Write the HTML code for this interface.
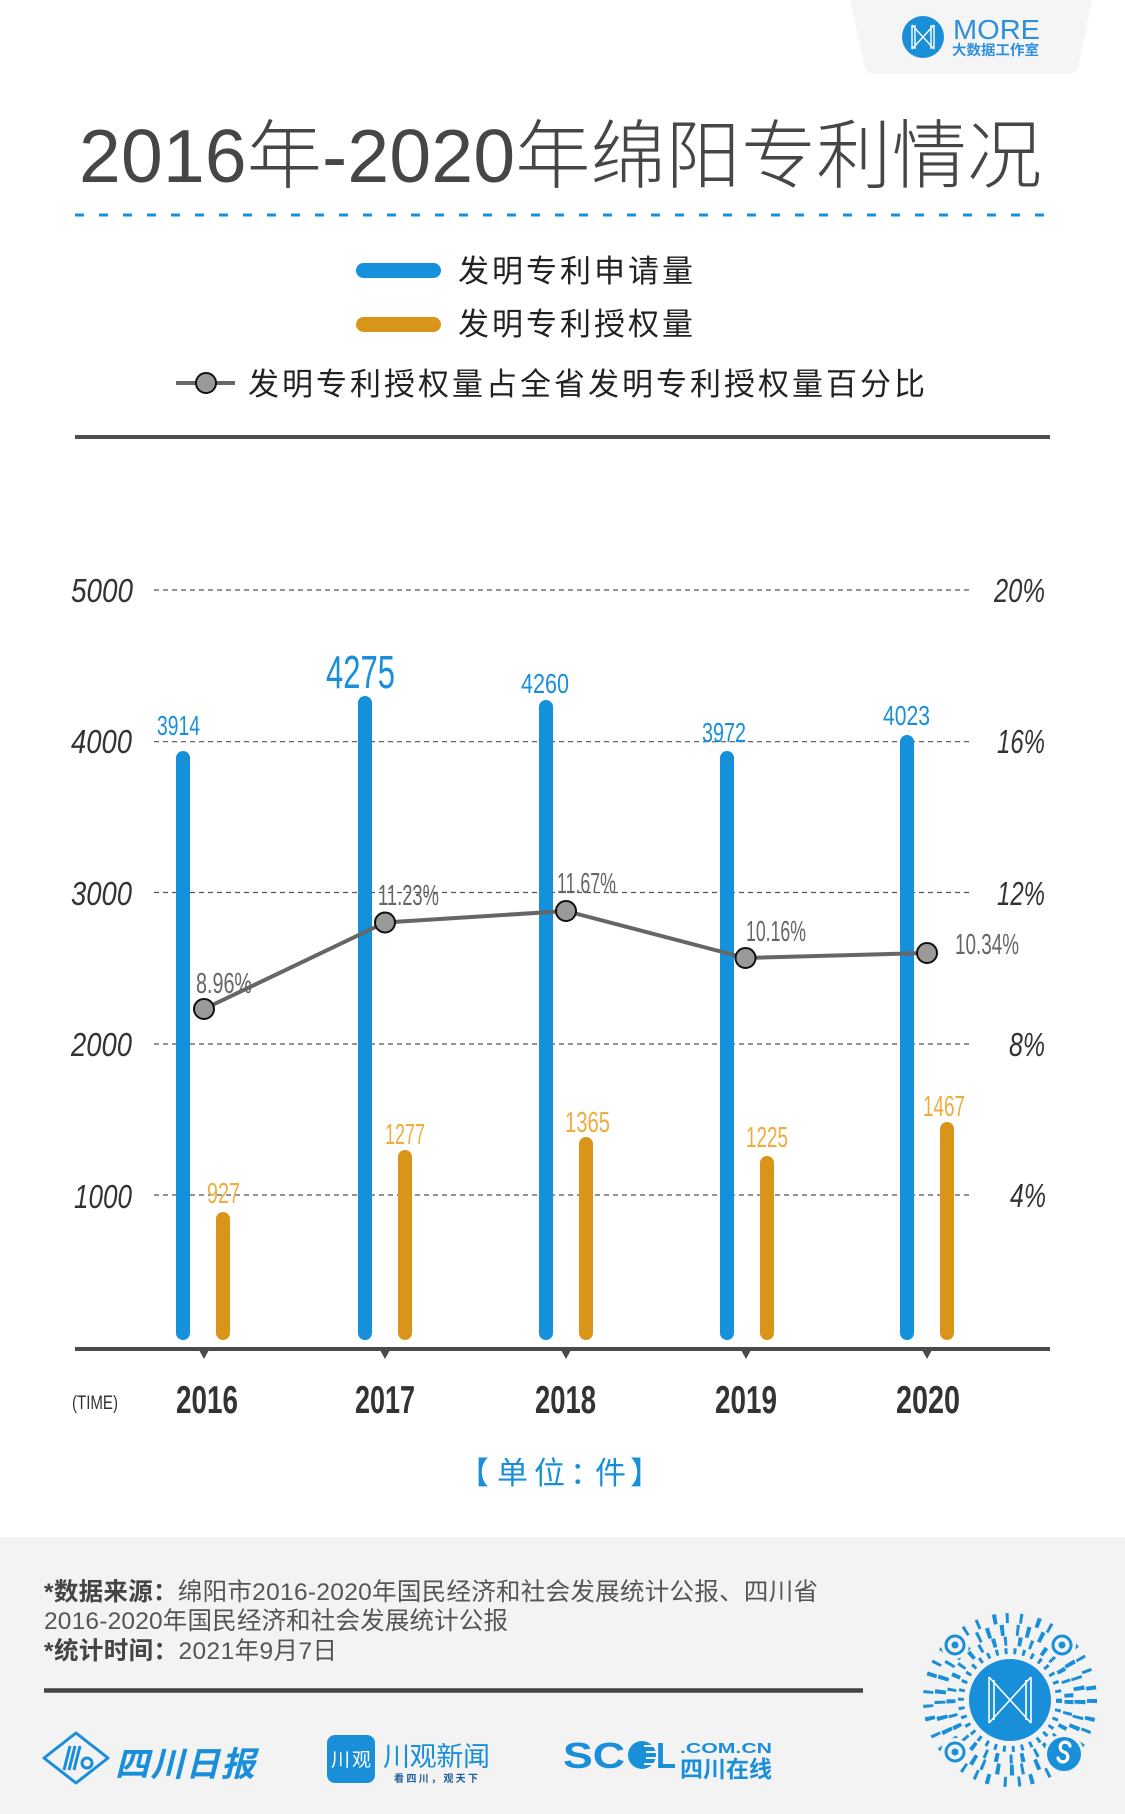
<!DOCTYPE html>
<html>
<head>
<meta charset="utf-8">
<style>
html,body{margin:0;padding:0;background:#fff;}
body{width:1125px;height:1814px;overflow:hidden;}
svg{display:block;}
text{font-family:"Liberation Sans","Noto Sans CJK SC",sans-serif;}
.num{font-family:"Liberation Sans",sans-serif;}
</style>
</head>
<body>
<svg width="1125" height="1814" viewBox="0 0 1125 1814" xmlns="http://www.w3.org/2000/svg">
  <rect x="0" y="0" width="1125" height="1814" fill="#ffffff"/>

  <!-- top logo box -->
  <path d="M850,0 L1092,0 L1079,64 Q1077,74 1067,74 L876,74 Q866,74 864,64 Z" fill="#f5f5f5"/>
  <circle cx="923" cy="37" r="21" fill="#1a8fd9"/>
  <g stroke="#fff" stroke-width="1.4" fill="none">
    <line x1="912" y1="25" x2="912" y2="49"/>
    <line x1="915" y1="25" x2="915" y2="49"/>
    <line x1="931" y1="25" x2="931" y2="49"/>
    <line x1="934" y1="25" x2="934" y2="49"/>
    <line x1="912" y1="25" x2="934" y2="49"/>
    <line x1="934" y1="25" x2="912" y2="49"/>
  </g>
  <text class="num" x="953" y="39" font-size="28" fill="#2f8fdc" textLength="87" lengthAdjust="spacingAndGlyphs">MORE</text>
  <text x="952" y="55" font-size="14" font-weight="700" fill="#2f8fdc" textLength="87" lengthAdjust="spacingAndGlyphs">大数据工作室</text>

  <!-- title -->
  <text x="79" y="182" font-size="75" fill="#464646" font-weight="300" textLength="963" lengthAdjust="spacing">2016年-2020年绵阳专利情况</text>
  <line x1="75" y1="215" x2="1050" y2="215" stroke="#1a8fd9" stroke-width="3" stroke-dasharray="9 15"/>

  <!-- legend -->
  <rect x="356" y="263" width="85" height="15" rx="7.5" fill="#1590db"/>
  <text x="458" y="282" font-size="31" fill="#222" textLength="235" lengthAdjust="spacing">发明专利申请量</text>
  <rect x="356" y="317" width="85" height="15" rx="7.5" fill="#d9951a"/>
  <text x="458" y="335" font-size="31" fill="#222" textLength="235" lengthAdjust="spacing">发明专利授权量</text>
  <line x1="176" y1="383" x2="235" y2="383" stroke="#666" stroke-width="4"/>
  <circle cx="206" cy="383" r="10" fill="#9a9a9a" stroke="#111" stroke-width="2"/>
  <text x="248" y="395" font-size="31" fill="#222" textLength="677" lengthAdjust="spacing">发明专利授权量占全省发明专利授权量百分比</text>

  <line x1="75" y1="437" x2="1050" y2="437" stroke="#4d4d4d" stroke-width="4"/>

  <!-- gridlines -->
  <g stroke="#555" stroke-width="1.2" stroke-dasharray="5 4">
    <line x1="154" y1="590" x2="972" y2="590"/>
    <line x1="154" y1="741.7" x2="972" y2="741.7"/>
    <line x1="154" y1="892.5" x2="972" y2="892.5"/>
    <line x1="154" y1="1044" x2="972" y2="1044"/>
    <line x1="154" y1="1195" x2="972" y2="1195"/>
  </g>

  <!-- left axis labels -->
  <g class="num" font-size="33" font-style="italic" fill="#333">
    <text x="71" y="602" textLength="62" lengthAdjust="spacingAndGlyphs">5000</text>
    <text x="71" y="753" textLength="61" lengthAdjust="spacingAndGlyphs">4000</text>
    <text x="71" y="905" textLength="61" lengthAdjust="spacingAndGlyphs">3000</text>
    <text x="71" y="1056" textLength="61" lengthAdjust="spacingAndGlyphs">2000</text>
    <text x="74" y="1208" textLength="58" lengthAdjust="spacingAndGlyphs">1000</text>
  </g>
  <!-- right axis labels -->
  <g class="num" font-size="33" font-style="italic" fill="#333">
    <text x="994" y="602" textLength="51" lengthAdjust="spacingAndGlyphs">20%</text>
    <text x="997" y="753" textLength="48" lengthAdjust="spacingAndGlyphs">16%</text>
    <text x="997" y="905" textLength="48" lengthAdjust="spacingAndGlyphs">12%</text>
    <text x="1009" y="1056" textLength="36" lengthAdjust="spacingAndGlyphs">8%</text>
    <text x="1010" y="1207" textLength="36" lengthAdjust="spacingAndGlyphs">4%</text>
  </g>

  <!-- blue bars -->
  <g stroke="#1590db" stroke-width="14" stroke-linecap="round">
    <line x1="183" y1="758" x2="183" y2="1333"/>
    <line x1="365" y1="703" x2="365" y2="1333"/>
    <line x1="546" y1="707" x2="546" y2="1333"/>
    <line x1="727" y1="758" x2="727" y2="1333"/>
    <line x1="907" y1="742" x2="907" y2="1333"/>
  </g>
  <!-- orange bars -->
  <g stroke="#d9951a" stroke-width="14" stroke-linecap="round">
    <line x1="223" y1="1219" x2="223" y2="1333"/>
    <line x1="405" y1="1157" x2="405" y2="1333"/>
    <line x1="586" y1="1144" x2="586" y2="1333"/>
    <line x1="767" y1="1163" x2="767" y2="1333"/>
    <line x1="947" y1="1129" x2="947" y2="1333"/>
  </g>

  <!-- blue labels -->
  <g class="num" fill="#1a8fd9">
    <text x="157" y="735" font-size="28" textLength="43" lengthAdjust="spacingAndGlyphs">3914</text>
    <text x="326" y="688" font-size="46" textLength="69" lengthAdjust="spacingAndGlyphs">4275</text>
    <text x="521" y="693" font-size="28" textLength="48" lengthAdjust="spacingAndGlyphs">4260</text>
    <text x="702" y="742" font-size="28" textLength="44" lengthAdjust="spacingAndGlyphs">3972</text>
    <text x="883" y="725" font-size="28" textLength="47" lengthAdjust="spacingAndGlyphs">4023</text>
  </g>
  <!-- orange labels -->
  <g class="num" fill="#f0ad3e" font-size="29">
    <text x="207" y="1203" textLength="33" lengthAdjust="spacingAndGlyphs">927</text>
    <text x="385" y="1144" textLength="40" lengthAdjust="spacingAndGlyphs">1277</text>
    <text x="565" y="1132" textLength="45" lengthAdjust="spacingAndGlyphs">1365</text>
    <text x="746" y="1147" textLength="42" lengthAdjust="spacingAndGlyphs">1225</text>
    <text x="923" y="1116" textLength="42" lengthAdjust="spacingAndGlyphs">1467</text>
  </g>

  <!-- line series -->
  <polyline points="204,1009 385,922.5 566,911 745.5,958 927,953" fill="none" stroke="#666" stroke-width="4" stroke-linejoin="round"/>
  <g fill="#9a9a9a" stroke="#111" stroke-width="2">
    <circle cx="204" cy="1009" r="10"/>
    <circle cx="385" cy="922.5" r="10"/>
    <circle cx="566" cy="911" r="10"/>
    <circle cx="745.5" cy="958" r="10"/>
    <circle cx="927" cy="953" r="10"/>
  </g>
  <g class="num" fill="#666" font-size="29">
    <text x="196" y="993" textLength="56" lengthAdjust="spacingAndGlyphs">8.96%</text>
    <text x="378" y="905" textLength="61" lengthAdjust="spacingAndGlyphs">11.23%</text>
    <text x="557" y="893" textLength="59" lengthAdjust="spacingAndGlyphs">11.67%</text>
    <text x="746" y="941" textLength="60" lengthAdjust="spacingAndGlyphs">10.16%</text>
    <text x="955" y="954" textLength="64" lengthAdjust="spacingAndGlyphs">10.34%</text>
  </g>

  <!-- x axis -->
  <line x1="75" y1="1349" x2="1050" y2="1349" stroke="#4a4a4a" stroke-width="4"/>
  <g fill="#4a4a4a">
    <polygon points="199,1350 209,1350 204,1359"/>
    <polygon points="380,1350 390,1350 385,1359"/>
    <polygon points="561,1350 571,1350 566,1359"/>
    <polygon points="741,1350 751,1350 746,1359"/>
    <polygon points="922,1350 932,1350 927,1359"/>
  </g>
  <g class="num" fill="#333" font-size="39" font-weight="700">
    <text x="176" y="1413" textLength="62" lengthAdjust="spacingAndGlyphs">2016</text>
    <text x="355" y="1413" textLength="60" lengthAdjust="spacingAndGlyphs">2017</text>
    <text x="535" y="1413" textLength="61" lengthAdjust="spacingAndGlyphs">2018</text>
    <text x="715" y="1413" textLength="62" lengthAdjust="spacingAndGlyphs">2019</text>
    <text x="896" y="1413" textLength="64" lengthAdjust="spacingAndGlyphs">2020</text>
  </g>
  <text class="num" x="72" y="1409" font-size="19" fill="#333" textLength="46" lengthAdjust="spacingAndGlyphs">(TIME)</text>

  <!-- unit -->
  <text y="1484" font-size="31" fill="#1a8fd9"><tspan x="458">【</tspan><tspan x="497">单</tspan><tspan x="534">位</tspan><tspan x="570">：</tspan><tspan x="595">件</tspan><tspan x="630">】</tspan></text>

  <!-- footer -->
  <rect x="0" y="1537" width="1125" height="277" fill="#f3f3f3"/>
  <text x="44" y="1600" font-size="24.5" fill="#555" textLength="774" lengthAdjust="spacing"><tspan font-weight="700" fill="#444">*数据来源：</tspan>绵阳市2016-2020年国民经济和社会发展统计公报、四川省</text>
  <text x="44" y="1629" font-size="24.5" fill="#555" textLength="464" lengthAdjust="spacing">2016-2020年国民经济和社会发展统计公报</text>
  <text x="44" y="1659" font-size="24.5" fill="#555" textLength="293" lengthAdjust="spacing"><tspan font-weight="700" fill="#444">*统计时间：</tspan>2021年9月7日</text>
  <line x1="44" y1="1690.5" x2="863" y2="1690.5" stroke="#444" stroke-width="4.5"/>

  <!-- 四川日报 logo -->
  <path d="M44,1758 L76,1733 L108,1758 L76,1783 Z" fill="none" stroke="#1a8fd9" stroke-width="3" stroke-linejoin="round"/>
  <g stroke="#1a8fd9" stroke-width="3">
    <line x1="64" y1="1770" x2="70" y2="1746"/>
    <line x1="69" y1="1770" x2="75" y2="1746"/>
    <line x1="74" y1="1770" x2="80" y2="1746"/>
  </g>
  <circle cx="87" cy="1763" r="5" fill="none" stroke="#1a8fd9" stroke-width="3"/>
  <text x="115" y="1776" font-size="34" font-weight="700" font-style="italic" fill="#1a8fd9" font-family="'Liberation Serif','Noto Serif CJK SC',serif" textLength="140" lengthAdjust="spacing">四川日报</text>

  <!-- 川观新闻 logo -->
  <rect x="327" y="1735" width="48" height="48" rx="8" fill="#1a8fd9"/>
  <text x="331" y="1766" font-size="19" fill="#fff" textLength="40" lengthAdjust="spacing">川观</text>
  <text x="383" y="1766" font-size="27" fill="#1a8fd9" textLength="107" lengthAdjust="spacing">川观新闻</text>
  <text x="394" y="1782" font-size="10" font-weight="700" fill="#1f5f99" font-family="'Liberation Serif','Noto Serif CJK SC',serif" textLength="84" lengthAdjust="spacing">看四川，观天下</text>

  <!-- SCOL logo -->
  <text x="563" y="1768" font-size="36" font-weight="700" fill="#1a8fd9" textLength="62" lengthAdjust="spacingAndGlyphs">SC</text>
  <circle cx="642" cy="1755" r="14" fill="#1a8fd9"/>
  <g stroke="#f3f3f3" stroke-width="2">
    <line x1="644" y1="1746" x2="656" y2="1746"/>
    <line x1="646" y1="1752" x2="657" y2="1752"/>
    <line x1="646" y1="1758" x2="657" y2="1758"/>
    <line x1="644" y1="1764" x2="656" y2="1764"/>
  </g>
  <text x="656" y="1768" font-size="36" font-weight="700" fill="#1a8fd9" textLength="20" lengthAdjust="spacingAndGlyphs">L</text>
  <text x="680" y="1753" font-size="15" font-weight="700" fill="#1a8fd9" textLength="92" lengthAdjust="spacingAndGlyphs">.COM.CN</text>
  <text x="680" y="1777" font-size="23" font-weight="700" fill="#1a8fd9" textLength="92" lengthAdjust="spacing">四川在线</text>

  <!-- QR code -->
  <g fill="none" stroke="#1a8fd9">
    <circle cx="1010" cy="1700" r="49" stroke-width="6" stroke-dasharray="3 6"/>
    <circle cx="1010" cy="1700" r="59" stroke-width="9" stroke-dasharray="4 8 3 11"/>
    <circle cx="1010" cy="1700" r="70" stroke-width="11" stroke-dasharray="4 12 3 7 4 10"/>
    <circle cx="1010" cy="1700" r="82" stroke-width="10" stroke-dasharray="3 14 4 9 3 11"/>
  </g>
  <circle cx="1010" cy="1700" r="41" fill="#1a8fd9"/>
  <g stroke="#fff" stroke-width="1.6" fill="none">
    <line x1="989" y1="1677" x2="989" y2="1723"/>
    <line x1="994" y1="1680" x2="994" y2="1720"/>
    <line x1="1026" y1="1680" x2="1026" y2="1720"/>
    <line x1="1031" y1="1677" x2="1031" y2="1723"/>
    <line x1="989" y1="1677" x2="1031" y2="1723"/>
    <line x1="1031" y1="1677" x2="989" y2="1723"/>
  </g>
  <g>
    <circle cx="955" cy="1645" r="14" fill="#f3f3f3"/>
    <circle cx="955" cy="1645" r="9" fill="none" stroke="#1a8fd9" stroke-width="3"/>
    <circle cx="955" cy="1645" r="3.5" fill="#1a8fd9"/>
    <circle cx="1062" cy="1645" r="14" fill="#f3f3f3"/>
    <circle cx="1062" cy="1645" r="9" fill="none" stroke="#1a8fd9" stroke-width="3"/>
    <circle cx="1062" cy="1645" r="3.5" fill="#1a8fd9"/>
    <circle cx="955" cy="1752" r="14" fill="#f3f3f3"/>
    <circle cx="955" cy="1752" r="9" fill="none" stroke="#1a8fd9" stroke-width="3"/>
    <circle cx="955" cy="1752" r="3.5" fill="#1a8fd9"/>
    <circle cx="1064" cy="1754" r="20" fill="#f3f3f3"/>
    <circle cx="1064" cy="1754" r="17" fill="#1a8fd9"/>
    <path d="M1070,1746 a5,5 0 1 0 -6,6 a5,5 0 1 1 -6,6" fill="none" stroke="#fff" stroke-width="3.2" stroke-linecap="round"/>
  </g>
</svg>
</body>
</html>
